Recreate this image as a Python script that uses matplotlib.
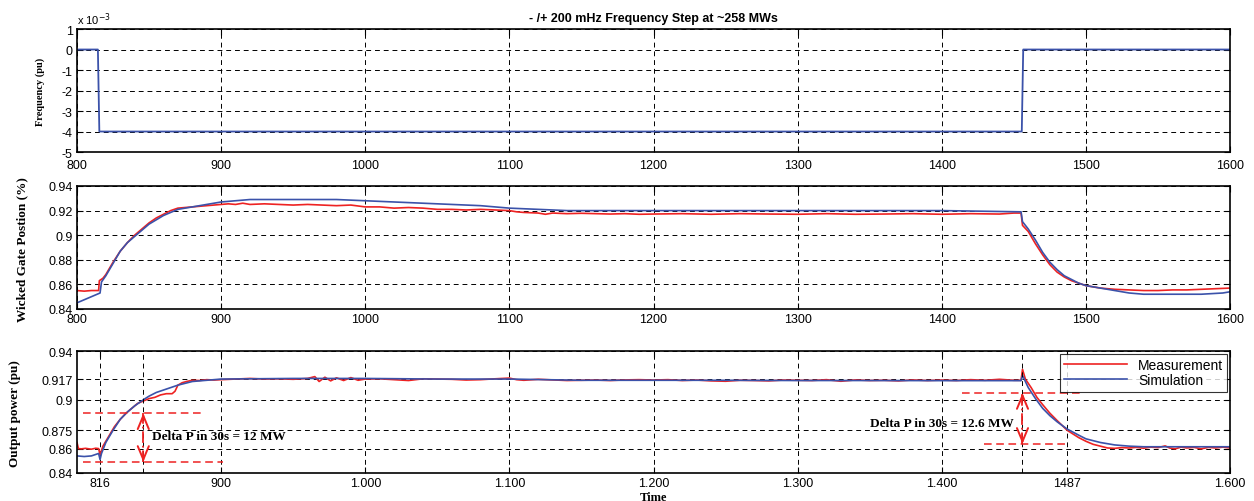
import numpy as np
import matplotlib
matplotlib.use('Agg')
import matplotlib.pyplot as plt

plt.rcParams['axes.unicode_minus'] = False

# Frequency step (x 10^-3 pu)
freq_t = [800, 814.5, 815.5, 1455.5, 1456.5, 1600]
freq_v = [0, 0, -4, -4, 0, 0]

# Wicket gate position, simulation
gate_sim_t = [800, 816, 817, 820, 825, 830, 835, 840, 845, 850,
              860, 870, 880, 890, 900, 910, 920, 940, 960, 980,
              1000, 1020, 1040, 1060, 1080, 1100, 1120, 1140, 1160, 1200,
              1300, 1400, 1455, 1456, 1460, 1465, 1470, 1475, 1480, 1485,
              1490, 1495, 1500, 1510, 1520, 1530, 1540, 1560, 1580, 1595,
              1600]
gate_sim_v = [0.845, 0.853, 0.862, 0.867, 0.877, 0.887, 0.894, 0.899, 0.904, 0.909,
              0.916, 0.921, 0.923, 0.925, 0.927, 0.928, 0.929, 0.929, 0.929, 0.929,
              0.928, 0.927, 0.926, 0.925, 0.924, 0.922, 0.921, 0.920, 0.920, 0.920,
              0.920, 0.920, 0.919, 0.911, 0.905, 0.896, 0.886, 0.878, 0.872, 0.867,
              0.864, 0.861, 0.859, 0.857, 0.855, 0.853, 0.852, 0.852, 0.852, 0.853,
              0.854]

# Wicket gate position, measurement
gate_meas_t = [800, 805, 810, 815, 815.5, 818, 820, 825, 830, 835,
               840, 845, 850, 855, 860, 865, 870, 875, 880, 890,
               900, 905, 910, 915, 920, 930, 940, 950, 960, 970,
               980, 990, 1000, 1010, 1020, 1030, 1040, 1050, 1060, 1070,
               1080, 1090, 1100, 1105, 1110, 1120, 1125, 1130, 1140, 1150,
               1160, 1170, 1180, 1190, 1200, 1220, 1240, 1260, 1280, 1300,
               1320, 1340, 1360, 1380, 1400, 1420, 1440, 1450, 1455, 1456,
               1460, 1465, 1470, 1475, 1480, 1485, 1490, 1495, 1500, 1510,
               1520, 1530, 1540, 1550, 1560, 1570, 1580, 1590, 1600]
gate_meas_v = [0.855, 0.8545, 0.855, 0.855, 0.863, 0.865, 0.868, 0.878, 0.887, 0.894,
               0.900, 0.905, 0.910, 0.914, 0.917, 0.920, 0.922, 0.9225, 0.923, 0.924,
               0.925, 0.9255, 0.925, 0.926, 0.925, 0.9255, 0.925, 0.9245, 0.925, 0.9245,
               0.924, 0.9245, 0.923, 0.923, 0.922, 0.9225, 0.922, 0.921, 0.921, 0.9205,
               0.921, 0.9205, 0.920, 0.919, 0.9185, 0.918, 0.917, 0.918, 0.9175, 0.9178,
               0.9175, 0.9172, 0.9175, 0.9170, 0.9172, 0.9175, 0.917, 0.9175, 0.9172, 0.917,
               0.9175, 0.917, 0.9172, 0.9175, 0.917, 0.9175, 0.9172, 0.918, 0.918, 0.908,
               0.903, 0.893, 0.884, 0.876, 0.870, 0.866, 0.863, 0.861, 0.859, 0.857,
               0.856, 0.8555, 0.855, 0.855, 0.8555, 0.8555, 0.856, 0.8565, 0.857]

# Output power, simulation
pow_sim_t = [800, 805, 810, 815, 816, 817, 820, 825, 830, 835,
             840, 846, 850, 855, 860, 865, 870, 880, 890, 900,
             950, 1000, 1050, 1100, 1150, 1200, 1250, 1300, 1350, 1400,
             1455, 1456, 1460, 1465, 1470, 1475, 1480, 1487, 1495, 1500,
             1510, 1520, 1530, 1540, 1560, 1580, 1600]
pow_sim_v = [0.854, 0.8535, 0.854, 0.856, 0.851, 0.856, 0.865, 0.875, 0.884, 0.890,
             0.895, 0.900, 0.903, 0.906, 0.908, 0.910, 0.912, 0.915, 0.916, 0.917,
             0.9175, 0.9175, 0.917, 0.917, 0.916, 0.916, 0.916, 0.9158, 0.9158, 0.9157,
             0.9157, 0.920, 0.910, 0.901, 0.893, 0.887, 0.882, 0.876, 0.871, 0.868,
             0.865, 0.863, 0.862, 0.8615, 0.8615, 0.8615, 0.8615]

# Output power, measurement
pow_meas_t = [800, 801, 803, 806, 810, 813, 815, 816, 818, 820,
              823, 826, 830, 834, 838, 842, 846, 850, 854, 858,
              862, 866, 868, 870, 873, 876, 880, 885, 890, 895,
              900, 910, 920, 930, 940, 950, 960, 965, 968, 972,
              976, 980, 985, 990, 995, 1000, 1010, 1020, 1030, 1040,
              1050, 1060, 1070, 1080, 1090, 1100, 1105, 1110, 1120, 1130,
              1140, 1150, 1160, 1170, 1180, 1190, 1200, 1210, 1220, 1230,
              1240, 1250, 1260, 1270, 1280, 1290, 1300, 1310, 1320, 1330,
              1340, 1350, 1360, 1370, 1380, 1390, 1400, 1410, 1420, 1430,
              1440, 1450, 1455, 1456, 1458, 1462, 1466, 1470, 1475, 1480,
              1487, 1495, 1500, 1505, 1510, 1515, 1520, 1525, 1530, 1535,
              1540, 1545, 1550, 1555, 1558, 1562, 1566, 1570, 1575, 1580,
              1585, 1590, 1595, 1600]
pow_meas_v = [0.865, 0.860, 0.8598, 0.8602, 0.8595, 0.8603, 0.860, 0.855, 0.862, 0.866,
              0.872, 0.878, 0.884, 0.889, 0.893, 0.897, 0.899, 0.901, 0.902, 0.904,
              0.905, 0.905, 0.907, 0.912, 0.914, 0.915, 0.916, 0.9158, 0.9165, 0.9162,
              0.9165, 0.917, 0.9175, 0.917, 0.9172, 0.9168, 0.9175, 0.919, 0.915, 0.9185,
              0.9155, 0.918, 0.9158, 0.9182, 0.916, 0.917, 0.9172, 0.9165, 0.9158, 0.9172,
              0.917, 0.9168, 0.9162, 0.9165, 0.9172, 0.9178, 0.9165, 0.916, 0.9168, 0.9163,
              0.9158, 0.916, 0.9162, 0.9158, 0.9163, 0.9165, 0.9162, 0.9165, 0.9158, 0.9162,
              0.9155, 0.9152, 0.916, 0.9158, 0.9155, 0.9162, 0.916, 0.9158, 0.9165, 0.9152,
              0.9163, 0.9158, 0.916, 0.9155, 0.9163, 0.9158, 0.9162, 0.9158, 0.9165, 0.916,
              0.9168, 0.916, 0.916, 0.925, 0.917, 0.910, 0.902, 0.896, 0.889, 0.883,
              0.875, 0.869, 0.866, 0.8635, 0.862, 0.8605, 0.8602, 0.8608, 0.8605, 0.861,
              0.8603, 0.8612, 0.8608, 0.8622, 0.8605, 0.8598, 0.8612, 0.8605, 0.861, 0.8598,
              0.861, 0.8605, 0.8612, 0.8605]

gate_ticks = [0.84, 0.86, 0.88, 0.9, 0.92, 0.94]
gate_labels = ['0.84', '0.86', '0.88', '0.9', '0.92', '0.94']
pow_yticks = [0.84, 0.86, 0.875, 0.9, 0.917, 0.94]
pow_ylabels = ['0.84', '0.86', '0.875', '0.9', '0.917', '0.94']
pow_xticks = [816, 900, 1000, 1100, 1200, 1300, 1400, 1487, 1600]
pow_xlabels = ['816', '900', '1.000', '1.100', '1.200', '1.300', '1.400', '1487', '1.600']
extra_vlines = [846, 1456]

# delta P markers: (x of arrow, upper level, lower level, upper span, lower span)
dp1 = (846, 0.889, 0.849, (804, 888), (804, 901))
dp2 = (1456, 0.9056, 0.8638, (1414, 1499), (1429, 1486))

RED = '#ee2222'
BLUE = '#3b52aa'
sans = 'Liberation Sans'
serif = 'Liberation Serif'
grid_style = dict(color='black', linestyle=(0, (5, 4)), linewidth=0.7)

fig = plt.figure(figsize=(12.54, 5.02), dpi=100)
L, W = 0.0614, 0.9195
ax1 = fig.add_axes([L, 0.6952, W, 0.245])
ax2 = fig.add_axes([L, 0.3825, W, 0.245])
ax3 = fig.add_axes([L, 0.0558, W, 0.243])

for ax in (ax1, ax2, ax3):
    ax.set_xlim(800, 1600)
    ax.tick_params(direction='in', top=True, right=True, length=4, width=0.8,
                   labelsize=9, pad=3)
    for s in ax.spines.values():
        s.set_linewidth(1.2)

# top: frequency
ax1.plot(freq_t, freq_v, color=BLUE, lw=1.3)
ax1.set_ylim(-5, 1)
ax1.set_yticks(range(-5, 2))
ax1.set_xticks(range(800, 1601, 100))
ax1.tick_params(axis='x', pad=5)
ax1.grid(True, **grid_style)
ax1.text(0.0, 1.015, r'x 10$^{-3}$', transform=ax1.transAxes, fontsize=8,
         family=sans, ha='left', va='bottom')
ax1.set_title('- /+ 200 mHz Frequency Step at ~258 MWs', fontsize=9,
              fontweight='bold', family=sans, pad=6)

# middle: gate position
ax2.plot(gate_meas_t, gate_meas_v, color=RED, lw=1.2)
ax2.plot(gate_sim_t, gate_sim_v, color=BLUE, lw=1.2)
ax2.set_ylim(0.84, 0.94)
ax2.set_yticks(gate_ticks)
ax2.set_yticklabels(gate_labels)
ax2.set_xticks(range(800, 1601, 100))
ax2.grid(True, **grid_style)

# bottom: output power
ax3.plot(pow_meas_t, pow_meas_v, color=RED, lw=1.2, label='Measurement')
ax3.plot(pow_sim_t, pow_sim_v, color=BLUE, lw=1.2, label='Simulation')
ax3.set_ylim(0.84, 0.94)
ax3.set_yticks(pow_yticks)
ax3.set_yticklabels(pow_ylabels)
ax3.set_xticks(pow_xticks)
ax3.set_xticklabels(pow_xlabels)
ax3.grid(True, **grid_style)
for xv in extra_vlines:
    ax3.axvline(xv, **grid_style)

for ax in (ax1, ax2, ax3):
    for lab in ax.get_xticklabels() + ax.get_yticklabels():
        lab.set_family(sans)

head = dict(arrowstyle='->, head_length=0.6, head_width=0.25', color=RED, lw=1.4,
            mutation_scale=16, shrinkA=0, shrinkB=0)
for xa, hi, lo, span_hi, span_lo in (dp1, dp2):
    ax3.plot(span_hi, [hi, hi], color=RED, lw=1.1, linestyle=(0, (5, 3)))
    ax3.plot(span_lo, [lo, lo], color=RED, lw=1.1, linestyle=(0, (5, 3)))
    ax3.plot([xa, xa], [lo, hi], color=RED, lw=1.3, linestyle='-.')
    ax3.annotate('', xy=(xa, hi), xytext=(xa, hi - 0.005), arrowprops=head)
    ax3.annotate('', xy=(xa, lo), xytext=(xa, lo + 0.005), arrowprops=head)

ax3.text(852, 0.870, 'Delta P in 30s = 12 MW', fontsize=9.5, fontweight='bold',
         family=serif, ha='left', va='center')
ax3.text(1450, 0.881, 'Delta P in 30s = 12.6 MW', fontsize=9.5, fontweight='bold',
         family=serif, ha='right', va='center')

leg = ax3.legend(loc='upper right', prop={'family': sans, 'size': 10},
                 frameon=True, fancybox=False, edgecolor='black', handlelength=4.5,
                 borderaxespad=0.2, borderpad=0.3, labelspacing=0.1)
leg.get_frame().set_linewidth(0.8)

ax3.set_xlabel('Time', fontsize=9, fontweight='bold', family=serif, labelpad=1)

fig.text(40 / 1254, 1 - 92 / 502, 'Frequency (pu)', rotation=90, fontsize=7.5,
         fontweight='bold', family=serif, ha='center', va='center')
fig.text(22 / 1254, 1 - 250 / 502, 'Wicked Gate Postion (%)', rotation=90, fontsize=9.5,
         fontweight='bold', family=serif, ha='center', va='center')
fig.text(15 / 1254, 1 - 414 / 502, 'Output power (pu)', rotation=90, fontsize=9.5,
         fontweight='bold', family=serif, ha='center', va='center')

fig.savefig('out.png', dpi=100)
